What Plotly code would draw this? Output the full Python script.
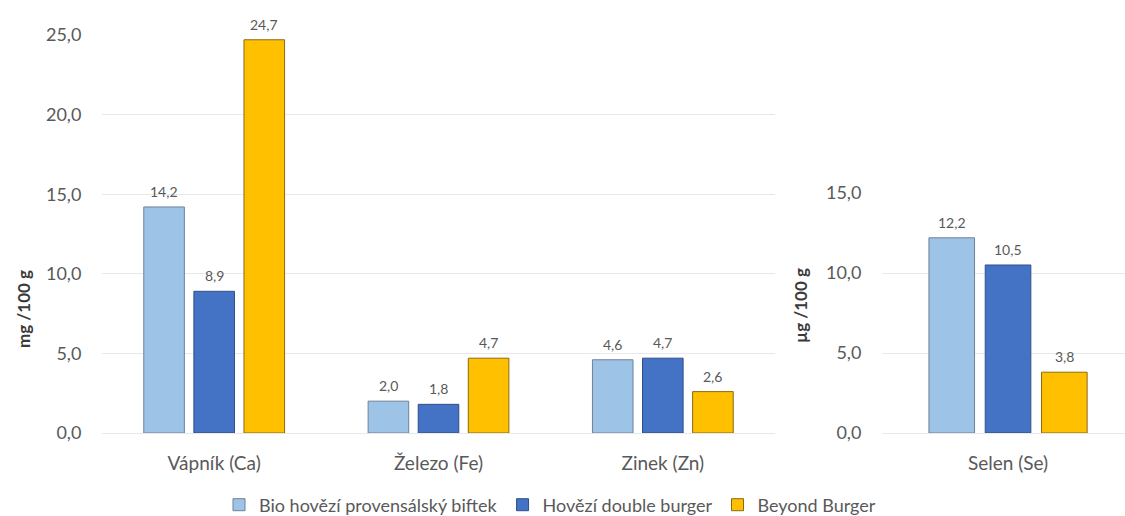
import plotly.graph_objects as go

# ---- data ----
minerals = ["Vápník (Ca)", "Železo (Fe)", "Zinek (Zn)"]
bio_mg = [14.2, 2.0, 4.6]
hovezi_mg = [8.9, 1.8, 4.7]
beyond_mg = [24.7, 4.7, 2.6]

selen = ["Selen (Se)"]
bio_ug = [12.2]
hovezi_ug = [10.5]
beyond_ug = [3.8]

series_names = ["Bio hovězí provensálský biftek", "Hovězí double burger", "Beyond Burger"]
colors = ["#9DC3E6", "#4472C4", "#FFC000"]
outlines = ["#6F8196", "#2F4F8A", "#8A6A10"]

FONT = "Lato"
GREY = "#595959"
W, H = 1125, 516
T, B = 35, 83
PH = H - T - B
BARGAP, BARGROUPGAP = 0.33, 0.19

fig = go.Figure()

left_vals = [bio_mg, hovezi_mg, beyond_mg]
right_vals = [bio_ug, hovezi_ug, beyond_ug]

for i in range(3):
    fig.add_trace(go.Bar(
        x=minerals, y=left_vals[i], name=series_names[i],
        marker=dict(color=colors[i], line=dict(color=outlines[i], width=1)),
        xaxis="x", yaxis="y", offsetgroup=str(i), legendgroup=str(i),
    ))
for i in range(3):
    fig.add_trace(go.Bar(
        x=selen, y=right_vals[i], name=series_names[i], showlegend=False,
        marker=dict(color=colors[i], line=dict(color=outlines[i], width=1)),
        xaxis="x2", yaxis="y2", offsetgroup=str(i), legendgroup=str(i),
    ))

# value labels above bars, positioned on the data scales
annotations = []
slot = (1 - BARGAP) / 3
for axes, cats, vals in (("", minerals, left_vals), ("2", selen, right_vals)):
    for j, series in enumerate(vals):
        for k, v in enumerate(series):
            annotations.append(dict(
                xref="x" + axes, yref="y" + axes,
                x=k + (j - 1) * slot, y=v,
                text=f"{v:.1f}".replace(".", ","),
                showarrow=False, yanchor="bottom", xanchor="center", yshift=5,
                font=dict(family=FONT, size=14, color=GREY),
            ))

grid = "#E8E8E8"
tickfont = dict(family=FONT, size=18, color=GREY)
catfont = dict(family=FONT, size=19, color=GREY)

annotations += [
    dict(text="<b>mg /100 g</b>", xref="paper", yref="paper",
         x=23 / W, y=(433 - 309) / PH, textangle=-90, showarrow=False,
         font=dict(family=FONT, size=17, color="#3A3A3A"),
         xanchor="center", yanchor="middle"),
    dict(text="<b>µg /100 g</b>", xref="paper", yref="paper",
         x=800 / W, y=(433 - 306) / PH, textangle=-90, showarrow=False,
         font=dict(family=FONT, size=17, color="#3A3A3A"),
         xanchor="center", yanchor="middle"),
]

fig.update_layout(
    width=W, height=H,
    margin=dict(l=0, r=0, t=T, b=B, autoexpand=False),
    paper_bgcolor="white", plot_bgcolor="white",
    separators=", ",
    barmode="group", bargap=BARGAP, bargroupgap=BARGROUPGAP,
    font=dict(family=FONT, color=GREY),
    xaxis=dict(domain=[102 / W, 775 / W], anchor="y", showgrid=False, automargin=False,
               ticks="outside", ticklen=13, tickcolor="rgba(0,0,0,0)",
               tickfont=catfont, showline=False),
    yaxis=dict(domain=[0, 1], anchor="x", range=[0, 25], dtick=5, tickformat=".1f",
               showgrid=True, gridcolor=grid, gridwidth=1, automargin=False,
               zeroline=True, zerolinecolor=grid, zerolinewidth=1,
               ticks="outside", ticklen=16, tickcolor="rgba(0,0,0,0)",
               tickfont=tickfont, showline=False),
    xaxis2=dict(domain=[882 / W, 1], anchor="y2", range=[-0.5, 0.464], showgrid=False,
                automargin=False,
                ticks="outside", ticklen=13, tickcolor="rgba(0,0,0,0)",
                tickfont=catfont, showline=False),
    yaxis2=dict(domain=[0, 240 / PH], anchor="x2", range=[0, 15], dtick=5, tickformat=".1f",
                showgrid=True, gridcolor=grid, gridwidth=1, automargin=False,
                zeroline=True, zerolinecolor=grid, zerolinewidth=1,
                ticks="outside", ticklen=16, tickcolor="rgba(0,0,0,0)",
                tickfont=tickfont, showline=False),
    legend=dict(orientation="h", x=550 / W, xanchor="center",
                y=(433 - 505) / PH, yanchor="middle",
                font=dict(family=FONT, size=18, color=GREY),
                itemwidth=30, traceorder="normal"),
    annotations=annotations,
)

fig.write_html("out.html")
